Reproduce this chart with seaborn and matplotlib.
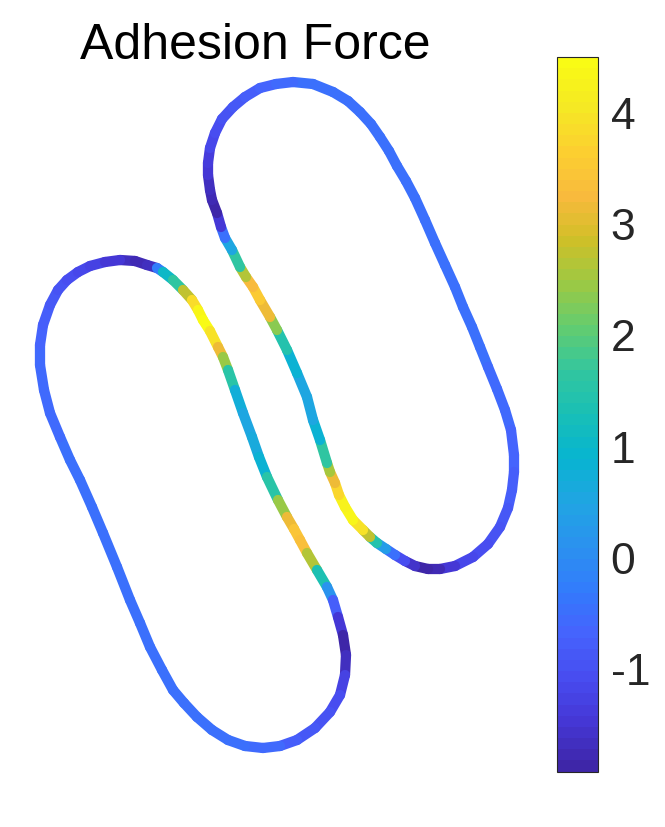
import numpy as np
import matplotlib
matplotlib.use("Agg")
import matplotlib.pyplot as plt
import seaborn as sns
from matplotlib.collections import LineCollection
from matplotlib.colors import ListedColormap, Normalize

# cell outlines (image pixels, y down), clockwise from the top of each cap
left_x = [120, 135, 147, 157, 163, 173, 183, 192, 198, 203, 210, 218, 223, 228, 235, 243, 252, 259,
          267, 278, 287, 294, 300, 307, 317, 327, 333, 338, 343, 346, 345, 340, 330, 315, 297, 280,
          263, 245, 228, 212, 197, 184, 173, 162, 150, 140, 130, 117, 103, 92, 80, 70, 60, 50, 44,
          40, 40, 43, 50, 58, 67, 78, 90, 105]
left_y = [260, 261, 265, 268, 272, 280, 290, 300, 310, 320, 331, 347, 357, 370, 390, 413, 437, 457,
          477, 500, 517, 529, 540, 553, 570, 587, 600, 617, 635, 655, 675, 695, 712, 728, 740, 746,
          748, 746, 740, 730, 717, 703, 690, 670, 647, 623, 600, 567, 533, 507, 480, 460, 437, 413, 390,
          365, 345, 325, 305, 290, 280, 272, 266, 262]
left_force = [-1.55, -1.7, -1.75, -1.5, 0.9, 1.2, 2.0, 3.5, 4.2, 4.5, 4.4, 3.5, 2.8, 2.0, 1.0, 0.5, 0.5, 0.7,
              1.0, 2.0, 2.8, 3.4, 3.5, 3.2, 2.0, 0.6, -0.3, -1.2, -1.8, -1.92, -1.4, -1.15, -1.0, -0.9, -0.8, -0.65,
              -0.55, -0.5, -0.5, -0.5, -0.5, -0.5, -0.5, -0.5, -0.5, -0.5, -0.5, -0.5, -0.5, -0.5, -0.5, -0.5, -0.5, -0.55, -0.6,
              -0.6, -0.62, -0.7, -0.8, -0.9, -1.0, -1.1, -1.2, -1.35]

right_x = [293, 313, 333, 348, 360, 371, 380, 389, 397, 406, 415, 425, 435, 445, 455, 463, 472, 480,
           488, 497, 505, 511, 514, 514, 512, 508, 500, 488, 473, 455, 440, 428, 415, 405, 395, 386,
           377, 370, 363, 353, 345, 339, 335, 330, 327, 320, 313, 307, 297, 287, 277, 270, 260, 253,
           246, 240, 232, 225, 221, 217, 212, 210, 208, 208, 210, 215, 222, 233, 245, 260, 276]
right_y = [82, 84, 92, 101, 112, 124, 137, 151, 166, 181, 198, 220, 243, 265, 287, 307, 327, 347,
           367, 389, 410, 430, 455, 472, 490, 508, 527, 544, 557, 566, 569, 569, 566, 561, 555, 549,
           543, 537, 530, 520, 507, 495, 483, 472, 463, 440, 420, 397, 373, 350, 330, 317, 300, 287,
           277, 267, 250, 238, 227, 213, 200, 190, 175, 163, 148, 133, 119, 107, 97, 88, 84]
right_force = [-0.5, -0.5, -0.5, -0.5, -0.5, -0.5, -0.5, -0.5, -0.5, -0.5, -0.5, -0.5, -0.5, -0.5, -0.5, -0.5, -0.5, -0.5,
               -0.5, -0.55, -0.6, -0.6, -0.65, -0.7, -0.75, -0.8, -0.9, -1.0, -1.1, -1.3, -1.6, -1.85, -1.8, -1.4, -0.8, -0.2,
               0.8, 2.0, 3.5, 4.3, 4.45, 4.0, 3.5, 2.8, 2.2, 1.0, 0.6, 0.5, 0.6, 1.0, 1.9, 2.8, 3.5, 3.5,
               3.0, 2.2, 1.0, 0.0, -1.0, -1.85, -1.8, -1.7, -1.55, -1.4, -1.25, -1.1, -1.0, -0.9, -0.8, -0.7, -0.6]

cbar_ticks = [-1, 0, 1, 2, 3, 4]
title = "Adhesion Force"

# parula-like anchors
parula_anchors = [
    (0.2422, 0.1504, 0.6603), (0.2706, 0.2147, 0.8364), (0.2813, 0.3006, 0.9414),
    (0.2699, 0.3892, 0.9906), (0.1963, 0.4847, 0.9892), (0.1687, 0.5703, 0.9359),
    (0.1248, 0.6459, 0.8883), (0.0297, 0.7082, 0.8163), (0.0964, 0.7500, 0.7120),
    (0.1938, 0.7758, 0.6251), (0.3909, 0.8029, 0.4354), (0.6174, 0.7876, 0.2612),
    (0.8203, 0.7498, 0.1535), (0.9728, 0.7298, 0.2394), (0.9892, 0.8136, 0.1885),
    (0.9597, 0.9135, 0.1423), (0.9769, 0.9839, 0.0805),
]

sns.set_style("white")
plt.rcParams['font.family'] = ['Liberation Sans', 'DejaVu Sans']
plt.rcParams['axes.unicode_minus'] = False

cmap = ListedColormap(sns.blend_palette(parula_anchors, n_colors=64))
all_force = np.concatenate([left_force, right_force])
norm = Normalize(vmin=all_force.min(), vmax=all_force.max())


def outline_segments(x, y, f):
    pts = np.column_stack([x, y]).astype(float)
    pts = np.vstack([pts, pts[:1]])
    f = np.append(np.asarray(f, float), f[0])
    segs = np.stack([pts[:-1], pts[1:]], axis=1)
    return segs, (f[:-1] + f[1:]) / 2


fig = plt.figure(figsize=(6.65, 8.27), dpi=100)
ax = fig.add_axes([0, 0, 1, 1])
ax.set_xlim(0, 665)
ax.set_ylim(827, 0)
ax.axis('off')

for x, y, f in [(left_x, left_y, left_force), (right_x, right_y, right_force)]:
    segs, vals = outline_segments(x, y, f)
    lc = LineCollection(segs, cmap=cmap, norm=norm, linewidths=7.4,
                        capstyle='round', joinstyle='round')
    lc.set_array(vals)
    ax.add_collection(lc)

fig.text(255 / 665, 1 - 59 / 827, title, ha='center', va='baseline',
         fontsize=36, color='black')

cax = fig.add_axes([0.837, 0.067, 0.0626, 0.864])
cb = fig.colorbar(lc, cax=cax, ticks=cbar_ticks)
cb.outline.set_linewidth(0.8)
cb.outline.set_edgecolor('#262626')
cax.tick_params(direction='in', length=5, width=0.8, color='#262626',
                labelsize=32, labelcolor='#262626', pad=9)

fig.savefig('out.png', dpi=100)
